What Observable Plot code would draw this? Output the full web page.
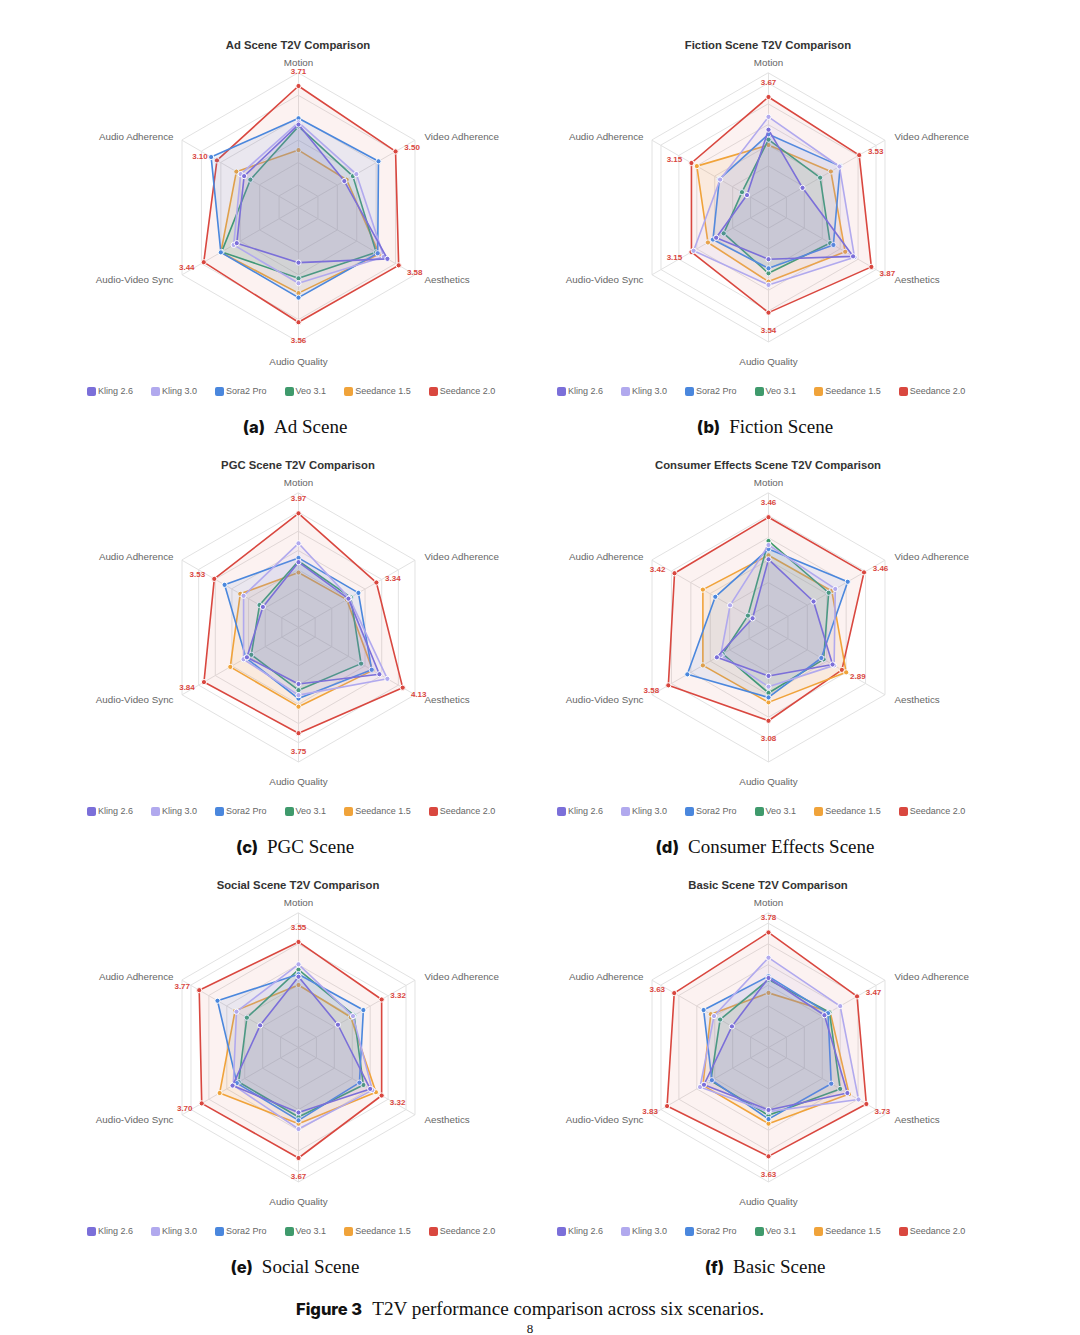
<!DOCTYPE html>
<html><head><meta charset="utf-8">
<script src="https://cdn.jsdelivr.net/npm/d3@7"></script>
<script src="https://cdn.jsdelivr.net/npm/@observablehq/plot@0.6"></script>
<style>
html,body{margin:0;padding:0;background:#fff}
body{width:1080px;height:1335px;position:relative;overflow:hidden;font-family:"Liberation Sans",Arial,sans-serif}
.panel{position:absolute;width:470px;height:420px}
.title{position:absolute;top:0;left:0;width:470px;text-align:center;font-weight:bold;font-size:11.3px;line-height:20px;color:#333}
.chart{position:absolute;top:20px;left:0}
.legend{position:absolute;top:349px;left:24px;display:flex;gap:18px;font-size:9px;color:#666;line-height:14px;white-space:nowrap}
.legend span.item{display:flex;align-items:center}
.legend span.box{display:inline-block;width:9px;height:9px;border-radius:2px;margin-right:2px}
.caption{position:absolute;top:381px;left:0;width:464px;text-align:center;line-height:22px;color:#111}
.cap-tag{font-family:Inter,"Open Sans",sans-serif;font-weight:800;font-size:16.5px;margin-right:9px}
.cap-text{font-family:"Liberation Serif","Times New Roman",serif;font-size:19px}
.figcap{position:absolute;top:1297px;left:0;width:1060px;text-align:center;line-height:24px;color:#111}
.figcap .tag{font-family:Inter,"Open Sans",sans-serif;font-weight:800;font-size:16.5px;margin-right:10px}
.figcap .txt{font-family:"Liberation Serif","Times New Roman",serif;font-size:19.2px}
.pagenum{position:absolute;top:1322px;left:0;width:1060px;text-align:center;font-family:"Liberation Serif",serif;font-size:13px;line-height:13px;color:#111}
</style>
</head><body>
<script>
// ---------- data ----------
const axes = ["Motion", "Video Adherence", "Aesthetics", "Audio Quality", "Audio-Video Sync", "Audio Adherence"];
const models = ["Kling 2.6", "Kling 3.0", "Sora2 Pro", "Veo 3.1", "Seedance 1.5", "Seedance 2.0"];
const colors = ["#7b6fd9", "#b1a9ee", "#4a87dd", "#3f9a6c", "#f0a33a", "#d9473f"];
const sceneNames = ["Ad Scene", "Fiction Scene", "PGC Scene", "Consumer Effects Scene", "Social Scene", "Basic Scene"];
const sceneTags = ["(a)", "(b)", "(c)", "(d)", "(e)", "(f)"];
const scaleMin = 1;
const scaleMax = [4.0, 4.25, 4.5, 4.0, 4.25, 4.25];

// rows follow `models`, columns follow `axes`
const adScene = [
  [2.85, 2.18, 3.29, 2.23, 2.59, 2.40],
  [2.90, 2.49, 3.20, 2.69, 2.67, 2.49],
  [2.99, 3.06, 3.04, 3.01, 3.00, 3.25],
  [2.81, 2.40, 3.00, 2.58, 2.98, 2.24],
  [2.28, 2.24, 3.08, 2.91, 3.00, 2.60],
  [3.71, 3.50, 3.58, 3.56, 3.44, 3.10]
];
const fictionScene = [
  [2.88, 1.95, 3.36, 2.25, 2.46, 1.60],
  [3.19, 2.98, 3.40, 2.87, 3.09, 2.35],
  [2.77, 3.00, 2.81, 2.47, 2.55, 2.37],
  [2.64, 2.44, 2.72, 2.59, 2.25, 1.74],
  [2.51, 2.74, 3.14, 2.79, 2.69, 3.00],
  [3.67, 3.53, 3.87, 3.54, 3.15, 3.15]
];
const pgcScene = [
  [2.70, 2.50, 3.43, 2.47, 2.55, 2.07],
  [3.19, 2.53, 3.67, 2.76, 2.65, 2.65],
  [2.81, 2.80, 3.20, 2.85, 2.58, 3.22],
  [2.73, 2.57, 2.88, 2.63, 2.42, 2.17],
  [2.43, 2.45, 3.23, 3.06, 3.05, 2.75],
  [3.97, 3.34, 4.13, 3.75, 3.84, 3.53]
];
const consumerScene = [
  [2.52, 2.16, 2.65, 2.08, 2.33, 1.41],
  [2.84, 2.72, 2.69, 2.32, 2.23, 1.99],
  [2.75, 3.04, 2.36, 2.56, 3.09, 2.37],
  [2.93, 2.55, 2.42, 2.46, 2.18, 1.53],
  [2.61, 2.63, 3.00, 2.67, 2.69, 2.69],
  [3.46, 3.46, 2.89, 3.08, 3.58, 3.42]
];
const socialScene = [
  [2.71, 2.10, 3.00, 2.57, 2.84, 2.07],
  [3.01, 2.52, 3.06, 2.97, 2.82, 2.73],
  [2.77, 2.81, 2.70, 2.76, 2.72, 3.26],
  [2.88, 2.55, 2.81, 2.68, 2.67, 2.44],
  [2.51, 2.46, 3.16, 2.84, 3.20, 2.77],
  [3.55, 3.32, 3.32, 3.67, 3.70, 3.77]
];
const basicScene = [
  [2.68, 2.56, 3.20, 2.51, 2.80, 2.02],
  [3.17, 3.00, 3.51, 2.55, 2.91, 2.52],
  [2.72, 2.66, 2.75, 2.73, 2.58, 2.81],
  [2.64, 2.70, 3.00, 2.64, 2.61, 2.35],
  [2.32, 2.72, 3.25, 2.84, 2.83, 2.61],
  [3.78, 3.47, 3.73, 3.63, 3.83, 3.63]
];
const sceneValues = [adScene, fictionScene, pgcScene, consumerScene, socialScene, basicScene];

// ---------- drawing ----------
const DEG = 10; // degrees of colatitude per score unit
const lon = i => 180 - i * 60;
const lat = v => 90 - (v - scaleMin) * DEG;

const axisLabelStyle = [
  {anchor: "middle", dx: 0, dy: -10.5},
  {anchor: "start", dx: 9.5, dy: -3.5},
  {anchor: "start", dx: 9.5, dy: 5},
  {anchor: "middle", dx: 0, dy: 19.5},
  {anchor: "end", dx: -8.5, dy: 5},
  {anchor: "end", dx: -8.5, dy: -3.5}
];
const valueLabelOffset = [[0, -15], [16.5, -4], [16, 7], [0, 18], [-17, 5], [-17, -4]];

function radar(values, max) {
  const ringValues = d3.range(scaleMin + 0.5, max + 1e-9, 0.5);
  if (Math.abs(ringValues[ringValues.length - 1] - max) > 1e-9) ringValues.push(max);
  const ringPts = ringValues.flatMap(r => axes.map((a, i) => ({r, i})));
  const pts = models.flatMap((m, j) => axes.map((a, i) => ({model: m, j, i, value: values[j][i]})));
  const marks = [
    Plot.line(ringPts, {x: d => lon(d.i), y: d => lat(d.r), z: "r", curve: "linear-closed", stroke: "#e2e2e2", strokeWidth: 1}),
    Plot.link(axes, {x1: (d, i) => lon(i), y1: () => lat(max), x2: (d, i) => lon(i), y2: () => 90, stroke: "#e2e2e2", strokeWidth: 1})
  ];
  for (let j = models.length - 1; j >= 0; j--) {
    const series = pts.filter(d => d.j === j);
    marks.push(Plot.line(series, {x: d => lon(d.i), y: d => lat(d.value), curve: "linear-closed",
      stroke: colors[j], strokeWidth: 1.6, fill: colors[j], fillOpacity: j === models.length - 1 ? 0.07 : 0.1}));
    marks.push(Plot.dot(series, {x: d => lon(d.i), y: d => lat(d.value), r: 2.6, fill: colors[j], stroke: "white", strokeWidth: 1}));
  }
  axes.forEach((a, i) => {
    const s = axisLabelStyle[i];
    marks.push(Plot.text([a], {x: () => lon(i), y: () => lat(max), text: d => d, textAnchor: s.anchor,
      dx: s.dx, dy: s.dy, fontSize: 9.8, fill: "#666"}));
  });
  const top = models.length - 1;
  axes.forEach((a, i) => {
    const o = valueLabelOffset[i];
    marks.push(Plot.text(pts.filter(d => d.j === top && d.i === i), {x: d => lon(d.i), y: d => lat(d.value),
      text: d => d.value.toFixed(2), dx: o[0], dy: o[1], fontSize: 8, fontWeight: "bold", fill: colors[top]}));
  });
  return Plot.plot({
    width: 470, height: 320,
    marginTop: 17.5, marginBottom: 33.5, marginLeft: 100.5, marginRight: 100.5,
    projection: {type: "azimuthal-equidistant", rotate: [0, -90], clip: false,
      domain: d3.geoCircle().center([0, 90]).radius((max - scaleMin) * DEG)()},
    style: {fontFamily: "'Liberation Sans', Arial, sans-serif", background: "white", overflow: "visible"},
    marks
  });
}

sceneValues.forEach((vals, k) => {
  const col = k % 2, row = Math.floor(k / 2);
  const panel = document.createElement("div");
  panel.className = "panel";
  panel.style.left = (63 + col * 470) + "px";
  panel.style.top = (35 + row * 420) + "px";
  const title = document.createElement("div");
  title.className = "title";
  title.textContent = sceneNames[k] + " T2V Comparison";
  panel.appendChild(title);
  const chart = document.createElement("div");
  chart.className = "chart";
  chart.appendChild(radar(vals, scaleMax[k]));
  panel.appendChild(chart);
  const legend = document.createElement("div");
  legend.className = "legend";
  models.forEach((m, j) => {
    const it = document.createElement("span");
    it.className = "item";
    const b = document.createElement("span");
    b.className = "box";
    b.style.background = colors[j];
    it.appendChild(b);
    it.appendChild(document.createTextNode(m));
    legend.appendChild(it);
  });
  panel.appendChild(legend);
  const cap = document.createElement("div");
  cap.className = "caption";
  cap.innerHTML = `<span class="cap-tag">${sceneTags[k]}</span><span class="cap-text">${sceneNames[k]}</span>`;
  panel.appendChild(cap);
  document.body.appendChild(panel);
});

const fig = document.createElement("div");
fig.className = "figcap";
fig.innerHTML = '<span class="tag">Figure 3</span><span class="txt">T2V performance comparison across six scenarios.</span>';
document.body.appendChild(fig);
const pn = document.createElement("div");
pn.className = "pagenum";
pn.textContent = "8";
document.body.appendChild(pn);
</script>
</body></html>
